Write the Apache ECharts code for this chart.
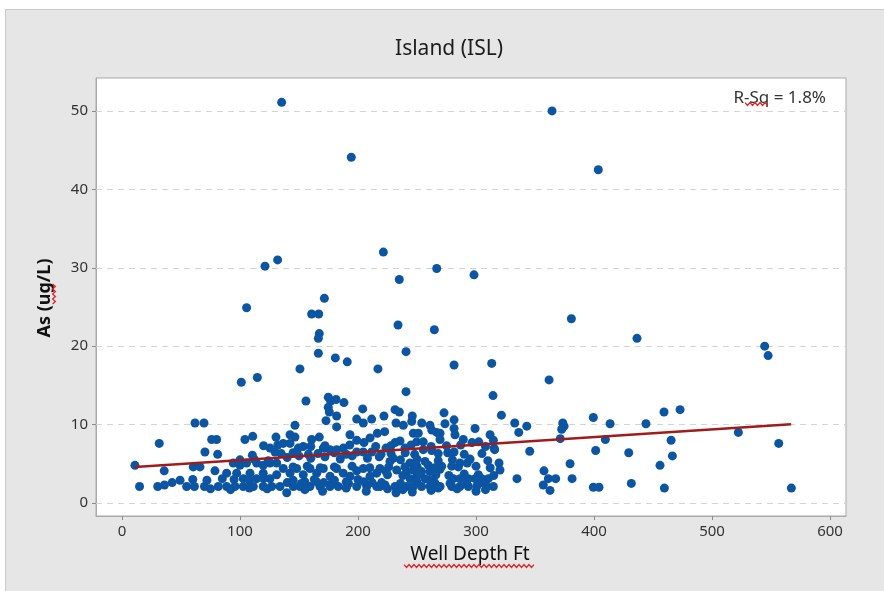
<!DOCTYPE html>
<html>
<head>
<meta charset="utf-8">
<title>Island (ISL) - Arsenic vs Well Depth</title>
<script src="https://cdn.jsdelivr.net/npm/echarts@6.0.0/dist/echarts.min.js"></script>
<style>
  html, body { margin: 0; padding: 0; background: #ffffff; }
  #frame {
    position: absolute; left: 5px; top: 9px; width: 885px; height: 590px;
    background: #e6e6e6; border: 1px solid #cacaca; box-sizing: border-box;
  }
  #chart { position: absolute; left: 0; top: 0; width: 884px; height: 591px; }
</style>
</head>
<body>
<div id="frame"></div>
<div id="chart"></div>
<script>
// Well depth (ft) of each sampled well
const depthFt = [
  135.3, 194.3, 364.4, 403.6,
  221.5, 121.2, 131.9, 266.7, 235.0, 171.5, 105.6, 160.7, 166.7, 233.9, 264.7, 167.2, 166.4, 166.4, 240.7, 180.8,
  190.9, 216.9, 281.4, 150.8, 114.7, 101.1, 240.7,
  298.3, 380.8, 436.4, 544.6, 547.5, 313.3, 361.9,
  314.4, 321.5, 399.4, 459.3, 472.9, 373.5, 374.6, 372.6, 413.6, 444.0, 332.8, 343.0, 336.2, 522.3, 371.4, 409.6,
  465.3, 556.5, 345.5, 401.4, 429.4, 466.4, 379.7, 455.9, 357.6, 334.7, 381.4, 361.3, 367.5, 357.0, 362.7, 399.4,
  404.2, 431.6, 459.6, 567.2,
  222.0, 231.4, 235.0, 246.0, 245.5, 272.9, 281.4, 232.2, 238.4, 261.0, 262.5, 273.7, 281.4, 282.2, 299.2, 222.6,
  246.9, 251.1, 266.7, 269.5, 311.9, 314.7, 235.6, 231.4, 249.7, 255.3, 269.5, 289.2, 296.6, 302.3, 223.7, 239.8,
  255.3, 262.5, 281.4, 315.3, 315.8, 229.9, 227.1, 244.1, 239.8, 256.8, 259.6, 270.9, 279.4, 286.4, 292.6, 319.5,
  320.3, 218.6, 223.7, 232.8, 241.3, 246.9, 253.9, 261.0, 269.5, 280.8, 286.4, 244.1, 249.7, 256.8, 261.0, 293.5,
  299.2, 304.8, 310.4, 218.6, 222.9, 231.4, 232.2, 241.3, 246.9, 253.9, 261.0, 269.5, 279.4, 286.4, 293.5, 300.6,
  309.0, 314.7, 254.0,
  155.9, 174.8, 176.8, 181.4, 188.1, 174.8, 175.7, 181.9, 172.9, 204.0, 198.9, 204.5, 211.6, 61.9, 69.5, 146.6,
  181.9, 31.6, 76.0, 80.2, 104.2, 110.8, 70.3, 81.1, 130.5, 142.4, 146.6, 142.4, 160.7, 167.2, 136.7, 125.4,
  129.7, 149.4, 153.6, 170.6, 176.3, 181.9, 187.5, 193.2, 198.9, 205.1, 210.2, 216.4, 198.9, 204.5, 211.6, 219.5,
  110.5, 94.3, 100.0, 105.6, 114.1, 119.7, 125.4, 131.1, 60.4, 66.1, 35.8, 78.8, 11.0,
  88.7, 97.2, 102.8, 108.5, 114.1, 119.7, 125.4, 131.1,
  136.7, 142.4, 148.0, 153.6, 159.3, 165.0, 170.6, 176.3, 181.9, 187.5, 193.2, 198.9, 204.5, 210.2, 215.8,
  14.9, 30.3, 36.0, 42.5, 49.2, 54.8, 61.4, 69.9, 81.6, 88.7, 95.8, 102.8, 111.3, 119.7, 126.9, 133.9,
  139.6, 145.2, 150.8, 159.3, 167.8, 176.3, 183.3, 190.4, 198.9, 207.4, 215.8,
  140.0, 150.0, 160.0, 172.0, 185.0, 195.0, 208.0, 218.0,
  145.0, 155.0, 163.0, 171.0, 180.0, 190.0, 200.0, 212.0,
  207.0, 246.0, 262.0, 300.0, 170.0,
  140.0, 152.0, 165.0, 178.0, 192.0, 205.0, 220.0, 236.0, 250.0, 265.0, 278.0, 292.0, 305.0,
  225.0, 238.0, 252.0, 266.0, 277.0, 290.0, 302.0, 315.0,
  145.0, 157.0, 168.0, 180.0, 195.0, 210.0, 226.0, 250.0, 265.0, 285.0, 300.0, 312.0,
  100.0, 112.0, 124.0, 236.0, 250.0, 268.0, 280.0, 295.0, 310.0,
  135.0, 145.0, 158.0, 166.0, 180.0, 190.0, 228.0, 240.0, 248.0, 268.0, 276.0, 290.0, 305.0,
  120.0, 132.0, 160.0, 172.0, 193.0, 215.0, 228.0, 245.0, 262.0, 275.0, 287.0, 308.0,
  75.0, 92.0, 108.0, 123.0, 155.0, 190.0, 225.0, 238.0, 268.0, 284.0, 308.0,
  60.0, 72.0, 85.0, 95.0, 108.0, 120.0
];

// Arsenic concentration (ug/L), same order as depthFt
const arsenic = [
  51.1, 44.1, 50.0, 42.5,
  32.0, 30.2, 31.0, 29.9, 28.5, 26.1, 24.9, 24.1, 24.1, 22.7, 22.1, 21.6, 21.0, 19.1, 19.3, 18.5,
  18.0, 17.1, 17.6, 17.1, 16.0, 15.4, 14.2,
  29.1, 23.5, 21.0, 20.0, 18.8, 17.8, 15.7,
  13.7, 11.2, 10.9, 11.6, 11.9, 10.2, 9.8, 9.4, 10.1, 10.1, 10.2, 9.8, 9.0, 9.0, 8.2, 8.1,
  8.0, 7.6, 6.6, 6.7, 6.4, 6.0, 5.0, 4.8, 4.1, 3.1, 3.1, 3.1, 3.1, 2.3, 1.6, 2.0,
  2.0, 2.5, 1.9, 1.9,
  11.1, 11.9, 11.6, 11.1, 10.4, 11.5, 10.6, 10.2, 9.9, 9.9, 9.3, 10.1, 9.5, 8.7, 9.5, 9.1,
  8.9, 8.9, 9.0, 8.9, 8.7, 8.0, 7.9, 7.7, 7.8, 7.8, 8.1, 8.1, 7.7, 7.8, 7.0, 7.0,
  6.8, 6.7, 6.5, 7.0, 6.8, 5.7, 5.3, 5.1, 4.6, 5.3, 4.8, 4.7, 4.7, 5.1, 5.1, 5.1,
  4.2, 4.4, 4.0, 4.2, 4.0, 4.2, 4.0, 4.0, 4.3, 3.1, 3.1, 3.1, 3.4, 3.1, 2.9, 3.1,
  3.1, 3.1, 3.1, 2.1, 2.3, 2.1, 1.3, 2.1, 2.1, 2.1, 2.1, 2.1, 2.1, 2.1, 2.1, 2.1,
  2.1, 2.1, 10.2,
  13.0, 13.5, 13.0, 13.2, 12.8, 12.2, 11.6, 11.1, 10.5, 12.0, 10.7, 10.2, 10.7, 10.2, 10.2, 9.9,
  9.7, 7.6, 8.1, 8.1, 8.1, 8.5, 6.5, 6.2, 8.4, 8.7, 8.4, 7.6, 8.1, 8.4, 7.6, 7.0,
  6.5, 7.0, 7.2, 7.0, 6.8, 6.8, 7.0, 8.7, 8.0, 7.7, 8.3, 8.9, 6.5, 6.5, 6.5, 6.2,
  6.1, 5.1, 4.8, 5.1, 5.1, 4.8, 5.1, 5.1, 4.6, 4.6, 4.1, 4.1, 4.8,
  3.8, 3.8, 3.1, 3.8, 3.1, 3.8, 3.1, 3.6,
  4.4, 3.8, 4.4, 3.6, 4.4, 3.8, 4.4, 3.4, 4.4, 3.8, 3.4, 4.1, 4.4, 3.4, 3.8,
  2.1, 2.1, 2.3, 2.6, 2.9, 2.1, 2.1, 2.1, 2.1, 2.1, 2.1, 2.1, 2.1, 2.1, 2.1, 2.1,
  1.3, 2.1, 2.1, 2.1, 2.1, 2.1, 2.1, 2.1, 2.1, 2.1, 2.1,
  5.8, 6.0, 5.7, 5.9, 5.6, 6.0, 5.7, 5.9,
  2.9, 2.7, 3.0, 2.6, 2.9, 2.7, 3.0, 2.6,
  1.5, 1.4, 1.6, 1.5, 1.5,
  2.6, 2.5, 2.7, 2.6, 2.5, 2.7, 2.6, 2.5, 2.7, 2.6, 2.5, 2.7, 2.6,
  3.6, 3.5, 3.7, 3.6, 3.5, 3.7, 3.6, 3.5,
  4.6, 4.7, 4.5, 4.6, 4.7, 4.5, 4.6, 4.7, 4.5, 4.6, 4.7, 4.5,
  5.5, 5.6, 5.4, 5.5, 5.6, 5.4, 5.5, 5.6, 5.4,
  6.3, 6.4, 6.2, 6.3, 6.4, 6.2, 6.3, 6.4, 6.2, 6.3, 6.4, 6.2, 6.3,
  7.3, 7.4, 7.2, 7.3, 7.4, 7.2, 7.3, 7.4, 7.2, 7.3, 7.4, 7.2,
  1.8, 1.7, 1.9, 1.8, 1.7, 1.9, 1.8, 1.7, 1.9, 1.8, 1.7,
  3.0, 2.9, 3.1, 3.0, 2.9, 3.1
];

// Axis tick positions
const xTicks = [0, 100, 200, 300, 400, 500, 600];
const yTicks = [0, 10, 20, 30, 40, 50];

// End points of the fitted regression line
const fitDepth = [11, 567];
const fitArsenic = [4.6, 10.05];

const rSqText = 'R-Sq = 1.8%';

const FONT = '"Noto Sans", "Open Sans", sans-serif';

const points = depthFt.map((d, i) => [d, arsenic[i]]);
const fitLine = fitDepth.map((d, i) => [d, fitArsenic[i]]);

// Red spell-check style wavy underline, horizontal or vertical
function wavy(x0, y0, length, vertical) {
  const pts = [];
  const step = 2.5;
  for (let t = 0, k = 0; t <= length; t += step, k++) {
    const off = (k % 2 === 0) ? -1.4 : 1.4;
    pts.push(vertical ? [x0 + off, y0 + t] : [x0 + t, y0 + off]);
  }
  return {
    type: 'polyline', silent: true, z: 20,
    shape: { points: pts },
    style: { stroke: '#e3262a', lineWidth: 1.3, fill: null }
  };
}

const chart = echarts.init(document.getElementById('chart'), null, { renderer: 'canvas' });

chart.setOption({
  animation: false,
  backgroundColor: 'transparent',
  grid: {
    left: 96, top: 78, right: 38, bottom: 75,
    show: true, backgroundColor: '#ffffff', borderColor: '#a9a9a9', borderWidth: 1
  },
  xAxis: {
    type: 'value', min: -22, max: 613.5,
    splitLine: { show: false },
    axisLine: { show: true, onZero: false, lineStyle: { color: '#a9a9a9' } },
    axisTick: { show: true, length: 4, customValues: xTicks, lineStyle: { color: '#8c8c8c' } },
    axisLabel: { customValues: xTicks, color: '#333333', fontSize: 15, margin: 8, fontFamily: FONT }
  },
  yAxis: {
    type: 'value', min: -1.66, max: 54.2,
    splitLine: { show: false },
    axisLine: { show: true, onZero: false, lineStyle: { color: '#a9a9a9' } },
    axisTick: { show: true, length: 4, customValues: yTicks, lineStyle: { color: '#8c8c8c' } },
    axisLabel: { customValues: yTicks, color: '#333333', fontSize: 15, margin: 8, fontFamily: FONT }
  },
  series: [
    {
      type: 'scatter',
      data: points,
      symbol: 'circle',
      symbolSize: 9,
      itemStyle: { color: '#0b55a3', opacity: 1 },
      z: 3,
      markLine: {
        silent: true,
        symbol: 'none',
        label: { show: false },
        lineStyle: { color: '#d4d4d4', type: [6, 5], width: 1 },
        data: yTicks.map(v => ({ yAxis: v })),
        z: 1
      }
    },
    {
      type: 'line',
      data: fitLine,
      symbol: 'none',
      lineStyle: { color: '#a01c1c', width: 2.5 },
      z: 4
    }
  ],
  graphic: [
    {
      type: 'text', x: 449, y: 49,
      style: { text: 'Island (ISL)', font: '21px ' + FONT, fill: '#1c1c1c',
               align: 'center', verticalAlign: 'middle', textAlign: 'center', textVerticalAlign: 'middle' }
    },
    {
      type: 'text', x: 826, y: 98,
      style: { text: rSqText, font: '17px ' + FONT, fill: '#333333',
               align: 'right', verticalAlign: 'middle', textAlign: 'right', textVerticalAlign: 'middle' },
      z: 10
    },
    {
      type: 'text', x: 45, y: 298, rotation: Math.PI / 2,
      style: { text: 'As (ug/L)', font: 'bold 18px ' + FONT, fill: '#111111',
               align: 'center', verticalAlign: 'middle', textAlign: 'center', textVerticalAlign: 'middle' }
    },
    {
      type: 'text', x: 470, y: 555,
      style: { text: 'Well Depth Ft', font: '19px ' + FONT, fill: '#111111',
               align: 'center', verticalAlign: 'middle', textAlign: 'center', textVerticalAlign: 'middle' }
    },
    wavy(745, 104, 23, false),
    wavy(54, 284, 22, true),
    wavy(404, 566, 132, false)
  ]
});
</script>
</body>
</html>
